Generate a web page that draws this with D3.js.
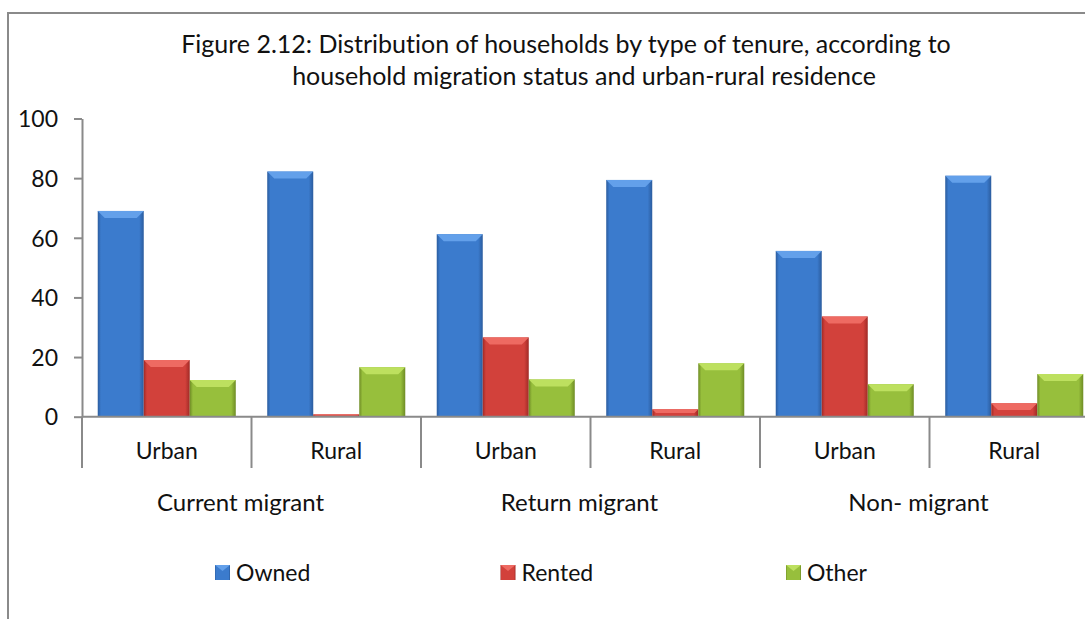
<!DOCTYPE html>
<html>
<head>
<meta charset="utf-8">
<script src="https://cdn.jsdelivr.net/npm/d3@7"></script>
<style>
  body { margin: 0; background: #fff; }
  text { font-family: Lato, "Open Sans", sans-serif; fill: #111; font-variant-ligatures: none; }
</style>
</head>
<body>
<svg id="chart" width="1085" height="619"></svg>
<script>
// chart data
const groups = ["Current migrant", "Return migrant", "Non- migrant"];
const areas = ["Urban", "Rural", "Urban", "Rural", "Urban", "Rural"];
const series = ["Owned", "Rented", "Other"];
const owned = [69.0, 82.2, 61.2, 79.4, 55.6, 80.8];
const rented = [19.0, 0.8, 26.6, 2.5, 33.6, 4.5];
const other = [12.3, 16.6, 12.5, 17.9, 10.9, 14.3];
const yTicks = [0, 20, 40, 60, 80, 100];
const titleLines = ["Figure 2.12: Distribution of households by type of tenure, according to",
                    "household migration status and urban-rural residence"];

const values = {Owned: owned, Rented: rented, Other: other};
const rows = areas.map((a, i) => ({idx: i, area: a}));

// colours: edge, body, bevel
const palette = {
    Owned:  {edge: "#2b5c9e", body: "#3b7bcd", light: "#63a0ea"},
    Rented: {edge: "#a02a26", body: "#d2413b", light: "#ee6a62"},
    Other:  {edge: "#6f8c25", body: "#97bf3c", light: "#bde05f"}
};

const svg = d3.select("#chart");

// outer frame (cut off at right and bottom like the source)
svg.append("rect")
    .attr("x", 8).attr("y", 13)
    .attr("width", 1200).attr("height", 800)
    .attr("fill", "none")
    .attr("stroke", "#8a8a8a")
    .attr("stroke-width", 2);

// gradients
const defs = svg.append("defs");
series.forEach(s => {
    const g = defs.append("linearGradient")
        .attr("id", `grad_${s}`)
        .attr("x1", "0").attr("x2", "1").attr("y1", "0").attr("y2", "0");
    g.append("stop").attr("offset", "0%").attr("stop-color", palette[s].edge);
    g.append("stop").attr("offset", "7%").attr("stop-color", palette[s].body);
    g.append("stop").attr("offset", "90%").attr("stop-color", palette[s].body);
    g.append("stop").attr("offset", "100%").attr("stop-color", palette[s].edge);
});

// scales
const x = d3.scaleBand()
    .domain(rows.map(d => d.idx))
    .range([82, 1099])
    .padding(0);

const xs = d3.scaleBand()
    .domain(series)
    .range([0, x.bandwidth()])
    .paddingInner(0)
    .paddingOuter(0.342);

const y = d3.scaleLinear()
    .domain([0, 100])
    .range([416.7, 118.5]);

// title
svg.selectAll(".title")
    .data(titleLines)
    .join("text")
    .attr("class", "title")
    .attr("x", (d, i) => i === 0 ? 566 : 584)
    .attr("y", (d, i) => 53 + i * 32)
    .attr("text-anchor", "middle")
    .style("font-size", "25px")
    .text(d => d);

// Y axis
const y_axis = d3.axisLeft(y)
    .tickValues(yTicks)
    .tickSize(8)
    .tickSizeOuter(0)
    .tickPadding(16);

const yg = svg.append("g")
    .attr("transform", `translate(${82}, 0)`)
    .call(y_axis);
yg.select(".domain").attr("stroke", "#8a8a8a").attr("stroke-width", 2);
yg.selectAll(".tick line").attr("stroke", "#8a8a8a").attr("stroke-width", 2);
yg.selectAll(".tick text")
    .style("font-size", "23px")
    .attr("fill", "#111")
    .attr("dy", "0.36em");

// bars
const bevel = 7;
const catG = svg.selectAll(".cat")
    .data(rows)
    .join("g")
    .attr("class", "cat")
    .attr("transform", d => `translate(${x(d.idx)}, 0)`);

const bars = catG.selectAll(".bar")
    .data(d => series.map(s => ({s: s, v: values[s][d.idx]})))
    .join("g")
    .attr("class", "bar");

bars.append("rect")
    .attr("x", d => xs(d.s))
    .attr("y", d => y(d.v))
    .attr("width", xs.bandwidth())
    .attr("height", d => y(0) - y(d.v))
    .attr("fill", d => `url(#grad_${d.s})`);

bars.append("polygon")
    .attr("points", d => {
        const x0 = xs(d.s), x1 = x0 + xs.bandwidth();
        const top = y(d.v);
        const b = Math.min(bevel, (y(0) - top) / 2);
        return [[x0, top], [x1, top], [x1 - b, top + b], [x0 + b, top + b]].join(" ");
    })
    .attr("fill", d => palette[d.s].light);

// X axis line and category dividers
const xEnd = x.range()[1];
svg.append("line")
    .attr("x1", 82).attr("x2", xEnd)
    .attr("y1", y(0)).attr("y2", y(0))
    .attr("stroke", "#8a8a8a").attr("stroke-width", 2);

const bounds = rows.map(d => x(d.idx)).concat([xEnd]);
svg.selectAll(".divider")
    .data(bounds)
    .join("line")
    .attr("class", "divider")
    .attr("x1", d => d).attr("x2", d => d)
    .attr("y1", y(0)).attr("y2", 468)
    .attr("stroke", "#8a8a8a").attr("stroke-width", 2);

// category labels
svg.selectAll(".catLabel")
    .data(rows)
    .join("text")
    .attr("class", "catLabel")
    .attr("x", d => x(d.idx) + x.bandwidth() / 2)
    .attr("y", 459)
    .attr("text-anchor", "middle")
    .style("font-size", "23px")
    .text(d => d.area);

// group labels
svg.selectAll(".groupLabel")
    .data(groups)
    .join("text")
    .attr("class", "groupLabel")
    .attr("x", (d, i) => x(i * 2) + x.bandwidth() - 11)
    .attr("y", 511)
    .attr("text-anchor", "middle")
    .style("font-size", "24px")
    .text(d => d);

// legend
const legendX = d3.scalePoint()
    .domain(series)
    .range([215, 786]);

const legend_items = svg.selectAll(".legend")
    .data(series)
    .join("g")
    .attr("class", "legend")
    .attr("transform", d => `translate(${legendX(d)}, ${565})`);

legend_items.append("rect")
    .attr("width", 15).attr("height", 15)
    .attr("fill", d => `url(#grad_${d})`);

legend_items.append("polygon")
    .attr("points", "0,0 15,0 7.5,6")
    .attr("fill", d => palette[d].light);

legend_items.append("text")
    .attr("x", 21)
    .attr("y", 16)
    .style("font-size", "23px")
    .text(d => d);
</script>
</body>
</html>
